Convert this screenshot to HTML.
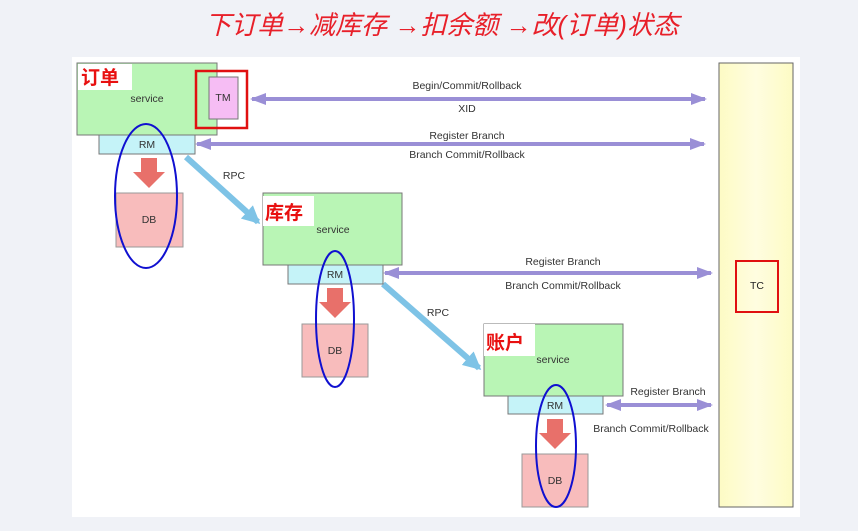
<!DOCTYPE html>
<html><head><meta charset="utf-8"><style>
body{margin:0;width:858px;height:531px;background:#f0f2f7;overflow:hidden}
svg{display:block}
text{font-family:"Liberation Sans",sans-serif}
.cn{font-family:"Liberation Sans","Noto Sans CJK SC",sans-serif}
</style></head><body>
<svg width="858" height="531" viewBox="0 0 858 531">
<defs>
<marker id="ah" markerWidth="4" markerHeight="4" refX="3.5" refY="2" orient="auto" markerUnits="strokeWidth"><path d="M0,0.5 L4,2 L0,3.5z" fill="#9a8fd6"/></marker>
<marker id="ahs" markerWidth="4" markerHeight="4" refX="0.5" refY="2" orient="auto" markerUnits="strokeWidth"><path d="M4,0.5 L0,2 L4,3.5z" fill="#9a8fd6"/></marker>
<marker id="bh" markerWidth="3" markerHeight="3" refX="2.5" refY="1.5" orient="auto" markerUnits="strokeWidth"><path d="M0,0 L3,1.5 L0,3z" fill="#7ec3e6"/></marker>
<linearGradient id="yg" x1="0" x2="1"><stop offset="0" stop-color="#fdfbc4"/><stop offset="0.5" stop-color="#fffde0"/><stop offset="1" stop-color="#fdfbc4"/></linearGradient>
</defs>
<text x="442" y="34" text-anchor="middle" class="cn" font-size="26" font-style="italic" fill="#e8202a">下订单→减库存 →扣余额 →改(订单)状态</text>
<rect x="72" y="57" width="728" height="460" fill="#fff"/>
<rect x="719" y="63" width="74" height="444" fill="url(#yg)" stroke="#666" stroke-width="1"/>
<rect x="736" y="261" width="42" height="51" fill="none" stroke="#e01010" stroke-width="2"/>
<text x="757" y="289" text-anchor="middle" font-size="10.5" fill="#222">TC</text>

<g stroke="#9a8fd6" stroke-width="4" fill="none">
<line x1="252" y1="99" x2="705" y2="99" marker-end="url(#ah)" marker-start="url(#ahs)"/>
<line x1="197" y1="144" x2="704" y2="144" marker-end="url(#ah)" marker-start="url(#ahs)"/>
<line x1="385" y1="273" x2="711" y2="273" marker-end="url(#ah)" marker-start="url(#ahs)"/>
<line x1="607" y1="405" x2="711" y2="405" marker-end="url(#ah)" marker-start="url(#ahs)"/>
</g>
<g font-size="10.5" fill="#333" text-anchor="middle">
<text x="467" y="89">Begin/Commit/Rollback</text>
<text x="467" y="112">XID</text>
<text x="467" y="139">Register Branch</text>
<text x="467" y="158">Branch Commit/Rollback</text>
<text x="563" y="265">Register Branch</text>
<text x="563" y="289">Branch Commit/Rollback</text>
<text x="668" y="395">Register Branch</text>
<text x="651" y="432">Branch Commit/Rollback</text>
<text x="234" y="179">RPC</text>
<text x="438" y="316">RPC</text>
</g>

<g stroke="#7ec3e6" stroke-width="6" fill="none">
<line x1="186" y1="157" x2="258" y2="222" marker-end="url(#bh)"/>
<line x1="383" y1="284" x2="479" y2="368" marker-end="url(#bh)"/>
</g>

<!-- service 1 -->
<rect x="77" y="63" width="140" height="72" fill="#b9f5b5" stroke="#777"/>
<rect x="78" y="64" width="54" height="26" fill="#fff"/>
<text x="81" y="84" class="cn" font-size="19" font-weight="bold" fill="#e81010">订单</text>
<text x="147" y="102" text-anchor="middle" font-size="10.5" fill="#333">service</text>
<rect x="209" y="77" width="29" height="42" fill="#f6bdf4" stroke="#777"/>
<text x="223" y="101" text-anchor="middle" font-size="10.5" fill="#333">TM</text>
<rect x="196" y="71" width="51" height="57" fill="none" stroke="#e01010" stroke-width="2.5"/>
<rect x="99" y="135" width="96" height="19" fill="#c5f3f8" stroke="#777"/>
<text x="147" y="148" text-anchor="middle" font-size="10.5" fill="#333">RM</text>
<path d="M141,158 h16 v14 h8 l-16,16 l-16,-16 h8z" fill="#e8706a"/>
<rect x="116" y="193" width="67" height="54" fill="#f8bcbc" stroke="#999"/>
<text x="149" y="223" text-anchor="middle" font-size="10.5" fill="#333">DB</text>
<ellipse cx="146" cy="196" rx="31" ry="72" fill="none" stroke="#1010d0" stroke-width="2"/>

<!-- service 2 -->
<rect x="263" y="193" width="139" height="72" fill="#b9f5b5" stroke="#777"/>
<rect x="263" y="196" width="51" height="30" fill="#fff"/>
<text x="265" y="219" class="cn" font-size="19" font-weight="bold" fill="#e81010">库存</text>
<text x="333" y="233" text-anchor="middle" font-size="10.5" fill="#333">service</text>
<rect x="288" y="265" width="95" height="19" fill="#c5f3f8" stroke="#777"/>
<text x="335" y="278" text-anchor="middle" font-size="10.5" fill="#333">RM</text>
<path d="M327,288 h16 v14 h8 l-16,16 l-16,-16 h8z" fill="#e8706a"/>
<rect x="302" y="324" width="66" height="53" fill="#f8bcbc" stroke="#999"/>
<text x="335" y="354" text-anchor="middle" font-size="10.5" fill="#333">DB</text>
<ellipse cx="335" cy="319" rx="19" ry="68" fill="none" stroke="#1010d0" stroke-width="2"/>

<!-- service 3 -->
<rect x="484" y="324" width="139" height="72" fill="#b9f5b5" stroke="#777"/>
<rect x="484" y="324" width="51" height="32" fill="#fff"/>
<text x="486" y="349" class="cn" font-size="19" font-weight="bold" fill="#e81010">账户</text>
<text x="553" y="363" text-anchor="middle" font-size="10.5" fill="#333">service</text>
<rect x="508" y="396" width="95" height="18" fill="#c5f3f8" stroke="#777"/>
<text x="555" y="409" text-anchor="middle" font-size="10.5" fill="#333">RM</text>
<path d="M547,419 h16 v14 h8 l-16,16 l-16,-16 h8z" fill="#e8706a"/>
<rect x="522" y="454" width="66" height="53" fill="#f8bcbc" stroke="#999"/>
<text x="555" y="484" text-anchor="middle" font-size="10.5" fill="#333">DB</text>
<ellipse cx="556" cy="446" rx="20" ry="61" fill="none" stroke="#1010d0" stroke-width="2"/>
</svg>
</body></html>
